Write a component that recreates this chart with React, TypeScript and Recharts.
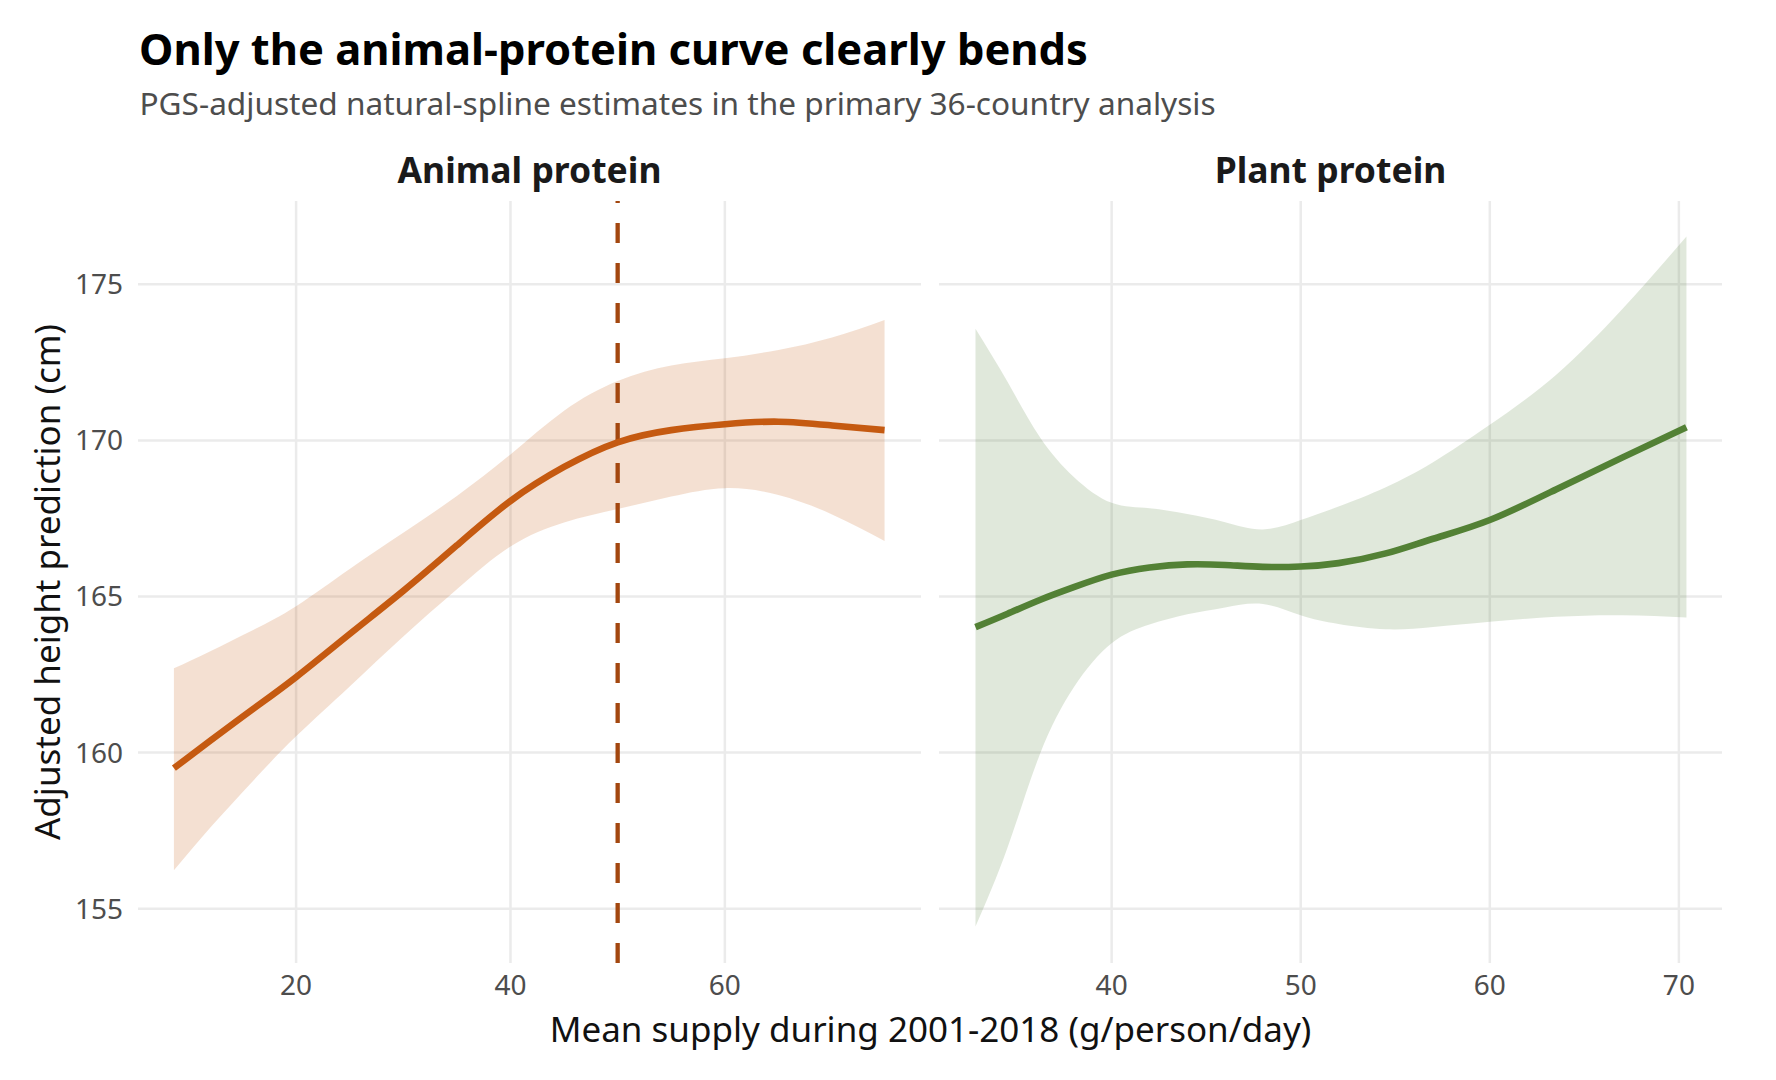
import React from "react";
import {
  ComposedChart,
  Line,
  Area,
  XAxis,
  YAxis,
  CartesianGrid,
  ReferenceLine,
} from "recharts";

// ---------- data ----------
const animalX = [8.6, 12, 16, 20, 25, 30, 35, 40, 45, 50, 55, 60, 65, 70, 74.9];
const animalFit = [159.5, 160.38, 161.4, 162.42, 163.8, 165.18, 166.64, 168.06, 169.15, 169.94, 170.33, 170.52, 170.6, 170.48, 170.33];
const animalLower = [156.23, 157.6, 159.1, 160.52, 162.12, 163.72, 165.23, 166.6, 167.37, 167.8, 168.2, 168.47, 168.25, 167.63, 166.78];
const animalUpper = [162.7, 163.25, 163.93, 164.69, 165.88, 167.04, 168.22, 169.55, 170.95, 171.9, 172.4, 172.63, 172.9, 173.3, 173.86];

const plantX = [32.8, 34.5, 36.2, 38, 40, 42, 44, 46, 48, 50, 52, 54.5, 57, 60, 63.5, 67, 70.4];
const plantFit = [164.02, 164.45, 164.89, 165.3, 165.7, 165.93, 166.03, 166.01, 165.95, 165.96, 166.07, 166.38, 166.85, 167.45, 168.43, 169.45, 170.42];
const plantLower = [154.43, 156.97, 159.94, 162.09, 163.5, 164.1, 164.43, 164.65, 164.76, 164.4, 164.12, 163.95, 164.02, 164.19, 164.35, 164.4, 164.33];
const plantUpper = [173.58, 171.87, 170.11, 168.83, 168.0, 167.83, 167.64, 167.38, 167.15, 167.45, 167.88, 168.5, 169.3, 170.5, 172.1, 174.2, 176.53];

const yTicks = [155, 160, 165, 170, 175];
const animalTicks = [20, 40, 60];
const plantTicks = [40, 50, 60, 70];
const thresholdX = 50;

const yDomain = [153.26, 177.67];
const animalDomain = [5.25, 78.3];
const plantDomain = [30.87, 72.28];

const animalData = animalX.map((x, i) => ({
  x,
  fit: animalFit[i],
  band: [animalLower[i], animalUpper[i]],
}));
const plantData = plantX.map((x, i) => ({
  x,
  fit: plantFit[i],
  band: [plantLower[i], plantUpper[i]],
}));

// ---------- styles ----------
const FONT = "'Noto Sans', 'Open Sans', sans-serif";
const ANIMAL = "#C55A11";
const PLANT = "#538135";
const DASH = "#A3470F";
const GRID = "#EBEBEB";
const TICK = { fontSize: 28, fill: "#4D4D4D", fontFamily: FONT };

export default function App() {
  return (
    <div
      style={{
        position: "absolute",
        left: 0,
        top: 0,
        width: 1776,
        height: 1080,
        background: "#fff",
        fontFamily: FONT,
        overflow: "hidden",
      }}
    >
      <div
        style={{
          position: "absolute",
          left: 139,
          top: 27,
          fontSize: 43.5,
          lineHeight: "43.5px",
          fontWeight: 700,
          color: "#000",
          whiteSpace: "nowrap",
        }}
      >
        Only the animal-protein curve clearly bends
      </div>
      <div
        style={{
          position: "absolute",
          left: 139.5,
          top: 86.5,
          fontSize: 31.6,
          lineHeight: "31.6px",
          color: "#4D4D4D",
          whiteSpace: "nowrap",
        }}
      >
        PGS-adjusted natural-spline estimates in the primary 36-country analysis
      </div>

      {/* facet strip labels */}
      <div
        style={{
          position: "absolute",
          left: 529.5,
          top: 152,
          transform: "translateX(-50%)",
          fontSize: 35.5,
          lineHeight: "35.5px",
          fontWeight: 700,
          color: "#1A1A1A",
          whiteSpace: "nowrap",
        }}
      >
        Animal protein
      </div>
      <div
        style={{
          position: "absolute",
          left: 1330.5,
          top: 152,
          transform: "translateX(-50%)",
          fontSize: 35.5,
          lineHeight: "35.5px",
          fontWeight: 700,
          color: "#1A1A1A",
          whiteSpace: "nowrap",
        }}
      >
        Plant protein
      </div>

      {/* left panel */}
      <div style={{ position: "absolute", left: 0, top: 0 }}>
        <ComposedChart
          width={930}
          height={1080}
          data={animalData}
          margin={{ top: 201, right: 9, bottom: 57, left: 0 }}
        >
          <CartesianGrid
            stroke={GRID}
            strokeWidth={2.5}
            syncWithTicks
            horizontalValues={yTicks}
            verticalValues={animalTicks}
          />
          <XAxis
            type="number"
            dataKey="x"
            domain={animalDomain}
            ticks={animalTicks}
            allowDataOverflow
            axisLine={false}
            tickLine={false}
            tickSize={0}
            tickMargin={12.5}
            height={60}
            tick={TICK}
          />
          <YAxis
            type="number"
            domain={yDomain}
            ticks={yTicks}
            allowDataOverflow
            axisLine={false}
            tickLine={false}
            tickSize={0}
            tickMargin={15}
            width={138}
            tick={TICK}
          />
          <Area
            dataKey="band"
            type="natural"
            stroke="none"
            fill={ANIMAL}
            fillOpacity={0.19}
            isAnimationActive={false}
            activeDot={false}
          />
          <ReferenceLine
            x={thresholdX}
            stroke={DASH}
            strokeWidth={4.3}
            strokeDasharray="20 20"
          />
          <Line
            dataKey="fit"
            type="natural"
            stroke={ANIMAL}
            strokeWidth={6.6}
            dot={false}
            activeDot={false}
            isAnimationActive={false}
          />
        </ComposedChart>
      </div>

      {/* right panel */}
      <div style={{ position: "absolute", left: 930, top: 0 }}>
        <ComposedChart
          width={846}
          height={1080}
          data={plantData}
          margin={{ top: 201, right: 54, bottom: 57, left: 9 }}
        >
          <CartesianGrid
            stroke={GRID}
            strokeWidth={2.5}
            syncWithTicks
            horizontalValues={yTicks}
            verticalValues={plantTicks}
          />
          <XAxis
            type="number"
            dataKey="x"
            domain={plantDomain}
            ticks={plantTicks}
            allowDataOverflow
            axisLine={false}
            tickLine={false}
            tickSize={0}
            tickMargin={12.5}
            height={60}
            tick={TICK}
          />
          <YAxis
            type="number"
            domain={yDomain}
            ticks={yTicks}
            allowDataOverflow
            hide
          />
          <Area
            dataKey="band"
            type="natural"
            stroke="none"
            fill={PLANT}
            fillOpacity={0.18}
            isAnimationActive={false}
            activeDot={false}
          />
          <Line
            dataKey="fit"
            type="natural"
            stroke={PLANT}
            strokeWidth={6.6}
            dot={false}
            activeDot={false}
            isAnimationActive={false}
          />
        </ComposedChart>
      </div>

      {/* axis titles */}
      <div
        style={{
          position: "absolute",
          left: 46,
          top: 582,
          transform: "translate(-50%, -50%) rotate(-90deg)",
          fontSize: 35,
          lineHeight: "35px",
          color: "#111",
          whiteSpace: "nowrap",
        }}
      >
        Adjusted height prediction (cm)
      </div>
      <div
        style={{
          position: "absolute",
          left: 930.5,
          top: 1014.5,
          transform: "translateX(-50%)",
          fontSize: 35,
          lineHeight: "28px",
          color: "#111",
          whiteSpace: "nowrap",
        }}
      >
        Mean supply during 2001-2018 (g/person/day)
      </div>
    </div>
  );
}
